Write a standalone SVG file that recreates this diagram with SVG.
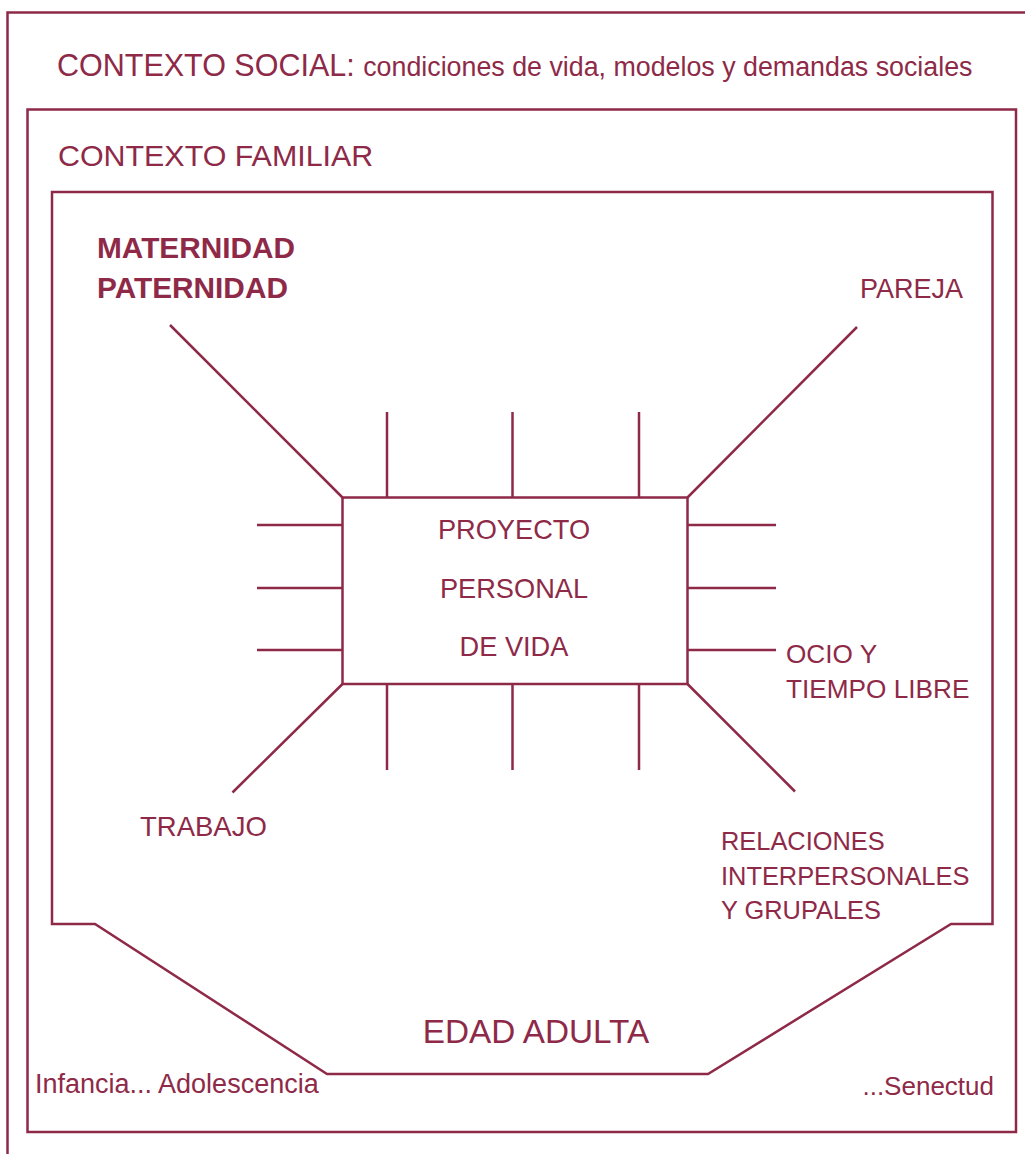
<svg xmlns="http://www.w3.org/2000/svg" width="1025" height="1154" viewBox="0 0 1025 1154">
<style>
.ln{fill:none;stroke:#8e2a48;stroke-width:2.5;stroke-linejoin:miter;stroke-linecap:butt}
.t{font-family:"Liberation Sans",Arial,sans-serif;fill:#8e2a48}
.b{font-weight:bold}
</style>
<rect width="1025" height="1154" fill="#fff"/>
<g id="contexto-social">
<path class="ln" d="M1030,12.5 H7.5 V1160"/>
<text class="t" x="57" y="76" font-size="30.5">CONTEXTO SOCIAL: <tspan font-size="26.8">condiciones de vida, modelos y demandas sociales</tspan></text>
</g>
<g id="contexto-familiar">
<rect class="ln" x="27.5" y="109.5" width="988.5" height="1022.5"/>
<text class="t" x="58" y="166" font-size="30.4">CONTEXTO FAMILIAR</text>
</g>
<g id="edad-adulta">
<path class="ln" d="M52,192 H992.5 V924 H951 L708,1074 H327 L95,924 H52 Z"/>
<text class="t" x="536" y="1043" font-size="33.3" text-anchor="middle">EDAD ADULTA</text>
<text class="t" x="35" y="1093" font-size="27">Infancia... Adolescencia</text>
<text class="t" x="994" y="1095" font-size="26" text-anchor="end">...Senectud</text>
</g>
<g id="proyecto">
<rect class="ln" x="342.5" y="497.5" width="345" height="186.5"/>
<text class="t" font-size="27.2" text-anchor="middle"><tspan x="514" y="539">PROYECTO</tspan><tspan x="514" y="598">PERSONAL</tspan><tspan x="514" y="656">DE VIDA</tspan></text>
</g>
<g id="maternidad">
<text class="t b" font-size="29.8"><tspan x="97" y="258">MATERNIDAD</tspan><tspan x="97" y="297.5">PATERNIDAD</tspan></text>
</g>
<g id="pareja">
<text class="t" x="860" y="298" font-size="27">PAREJA</text>
</g>
<g id="ocio">
<text class="t" font-size="26.2"><tspan x="786" y="663">OCIO Y</tspan><tspan x="786" y="698">TIEMPO LIBRE</tspan></text>
</g>
<g id="relaciones">
<text class="t" font-size="25.4"><tspan x="721" y="850">RELACIONES</tspan><tspan x="721" y="885">INTERPERSONALES</tspan><tspan x="721" y="919">Y GRUPALES</tspan></text>
</g>
<g id="trabajo">
<text class="t" x="140" y="836" font-size="27.5">TRABAJO</text>
</g>
<g id="connectors">
<path class="ln" d="M342.5,497.5 L170,325 M687.5,497.5 L857,327 M342.5,684 L232.5,792.5 M687.5,684 L795,791.5"/>
<path class="ln" d="M387,412 V497.5 M512.5,412 V497.5 M639,412 V497.5 M387,684 V770 M512.5,684 V770 M639,684 V770"/>
<path class="ln" d="M257,525 H342.5 M257,588 H342.5 M257,650 H342.5 M687.5,525 H776 M687.5,588 H776 M687.5,650 H776"/>
</g>
</svg>
